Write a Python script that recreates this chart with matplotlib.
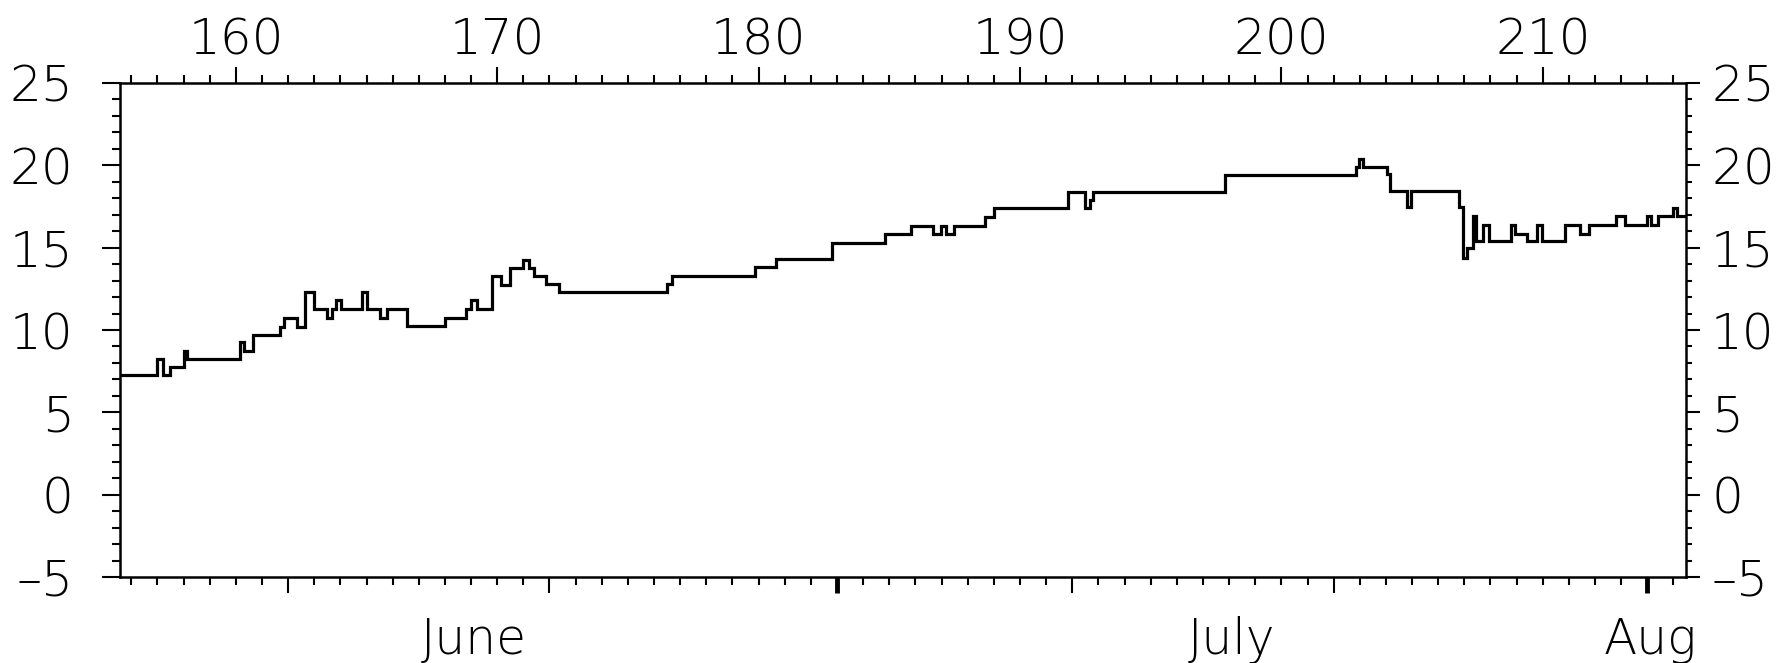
import matplotlib
matplotlib.use("Agg")
import matplotlib.pyplot as plt
from matplotlib.ticker import MultipleLocator, FixedLocator, FixedFormatter, NullFormatter

# ---- data (day of year, step starts) ----
step_start = [155.55, 157.0, 157.2, 157.5, 158.0, 158.15, 160.15, 160.3, 160.65, 161.7,
              161.85, 162.35, 162.65, 163.0, 163.5, 163.67, 163.85, 164.02, 164.83, 165.03,
              165.5, 165.8, 166.53, 168.0, 168.8, 169.0, 169.22, 169.8, 170.15, 170.5,
              171.0, 171.2, 171.4, 171.85, 172.37, 176.5, 176.68, 179.87, 180.67, 182.8,
              184.84, 185.83, 186.66, 186.97, 187.17, 187.49, 188.67, 189.01, 191.82, 192.49,
              192.66, 192.81, 197.85, 202.86, 202.98, 203.13, 204.03, 204.16, 204.8, 204.96,
              206.81, 206.96, 207.12, 207.32, 207.45, 207.73, 207.95, 208.78, 208.92, 209.41,
              209.79, 209.96, 210.85, 211.43, 211.78, 212.80, 213.15, 213.98, 214.13, 214.42,
              214.97, 215.15]
step_end = 215.48
temperature = [7.25, 8.25, 7.25, 7.75, 8.75, 8.25, 9.25, 8.75, 9.7, 10.2,
               10.7, 10.2, 12.3, 11.3, 10.75, 11.3, 11.8, 11.3, 12.3, 11.3,
               10.75, 11.3, 10.25, 10.75, 11.3, 11.8, 11.3, 13.3, 12.75, 13.75,
               14.25, 13.75, 13.3, 12.8, 12.3, 12.8, 13.3, 13.8, 14.3, 15.3,
               15.8, 16.3, 15.8, 16.3, 15.8, 16.3, 16.85, 17.4, 18.4, 17.4,
               17.9, 18.4, 19.4, 19.9, 20.4, 19.9, 19.45, 18.45, 17.45, 18.45,
               17.45, 14.4, 14.95, 16.9, 15.4, 16.35, 15.4, 16.35, 15.85, 15.4,
               16.35, 15.4, 16.35, 15.85, 16.35, 16.9, 16.35, 16.9, 16.35, 16.9,
               17.4, 16.95]

day_ticks_top = [160, 170, 180, 190, 200, 210]
y_ticks = [-5, 0, 5, 10, 15, 20, 25]
y_tick_labels = ["\u20135", "0", "5", "10", "15", "20", "25"]
bottom_major = [162, 172, 192, 202]
month_starts = [183, 214]
month_labels = ["June", "July", "Aug"]
month_label_pos = [169.1, 198.1, 214.1]

# ---- figure ----
plt.rcParams['font.family'] = ['DejaVu Sans']
FS = 36
W, H = 1781, 663
fig = plt.figure(figsize=(W / 100, H / 100), dpi=100)
left, right, top, bottom = 119.5, 1686, 83, 577
ax = fig.add_axes([left / W, 1 - bottom / H, (right - left) / W, (bottom - top) / H])

edges = step_start + [step_end]
ax.stairs(temperature, edges, baseline=None, color='black', linewidth=2.3)

ax.set_xlim(step_start[0], step_end)
ax.set_ylim(y_ticks[0], y_ticks[-1])
for s in ax.spines.values():
    s.set_linewidth(1.8)

# bottom axis: day ticks, month labels
ax.xaxis.set_major_locator(FixedLocator(bottom_major))
ax.xaxis.set_minor_locator(MultipleLocator(1))
ax.xaxis.set_major_formatter(NullFormatter())
ax.tick_params(axis='x', which='major', direction='out', length=11.5, width=1.5,
               top=False, labelbottom=False)
ax.tick_params(axis='x', which='minor', direction='out', length=6, width=1.5, top=False)

sec_b = ax.secondary_xaxis('bottom')
sec_b.xaxis.set_major_locator(FixedLocator(month_starts))
sec_b.xaxis.set_major_formatter(NullFormatter())
sec_b.tick_params(axis='x', which='major', direction='out', length=11.5, width=3.5)
sec_b.spines['bottom'].set_visible(False)

for lab, pos in zip(month_labels, month_label_pos):
    ax.text(pos, -0.155, lab, transform=ax.get_xaxis_transform(), ha='center',
            va='baseline', fontsize=FS - 1, fontweight='light')

# top axis: day of year
sec_t = ax.secondary_xaxis('top')
sec_t.xaxis.set_major_locator(FixedLocator(day_ticks_top))
sec_t.xaxis.set_minor_locator(MultipleLocator(1))
sec_t.tick_params(axis='x', which='major', direction='out', length=11.5, width=1.5,
                  labelsize=FS, pad=2)
sec_t.tick_params(axis='x', which='minor', direction='out', length=5.8, width=1.5)
sec_t.spines['top'].set_visible(False)

# left axis
ax.yaxis.set_major_locator(FixedLocator(y_ticks))
ax.yaxis.set_major_formatter(FixedFormatter(y_tick_labels))
ax.yaxis.set_minor_locator(MultipleLocator(1))
ax.tick_params(axis='y', which='major', direction='out', length=13, width=1.5,
               labelsize=FS, pad=20, right=False)
ax.tick_params(axis='y', which='minor', direction='out', length=5.5, width=1.5, right=False)

# right axis
sec_r = ax.secondary_yaxis('right')
sec_r.yaxis.set_major_locator(FixedLocator(y_ticks))
sec_r.yaxis.set_major_formatter(FixedFormatter(y_tick_labels))
sec_r.yaxis.set_minor_locator(MultipleLocator(1))
sec_r.tick_params(axis='y', which='major', direction='out', length=10, width=1.5,
                  labelsize=FS, pad=8)
sec_r.tick_params(axis='y', which='minor', direction='out', length=4.3, width=1.5)
sec_r.spines['right'].set_visible(False)

for t in (ax.get_yticklabels() + sec_r.get_yticklabels() + sec_t.get_xticklabels()):
    t.set_fontweight('light')

fig.savefig('out.png', dpi=100, facecolor='white')
